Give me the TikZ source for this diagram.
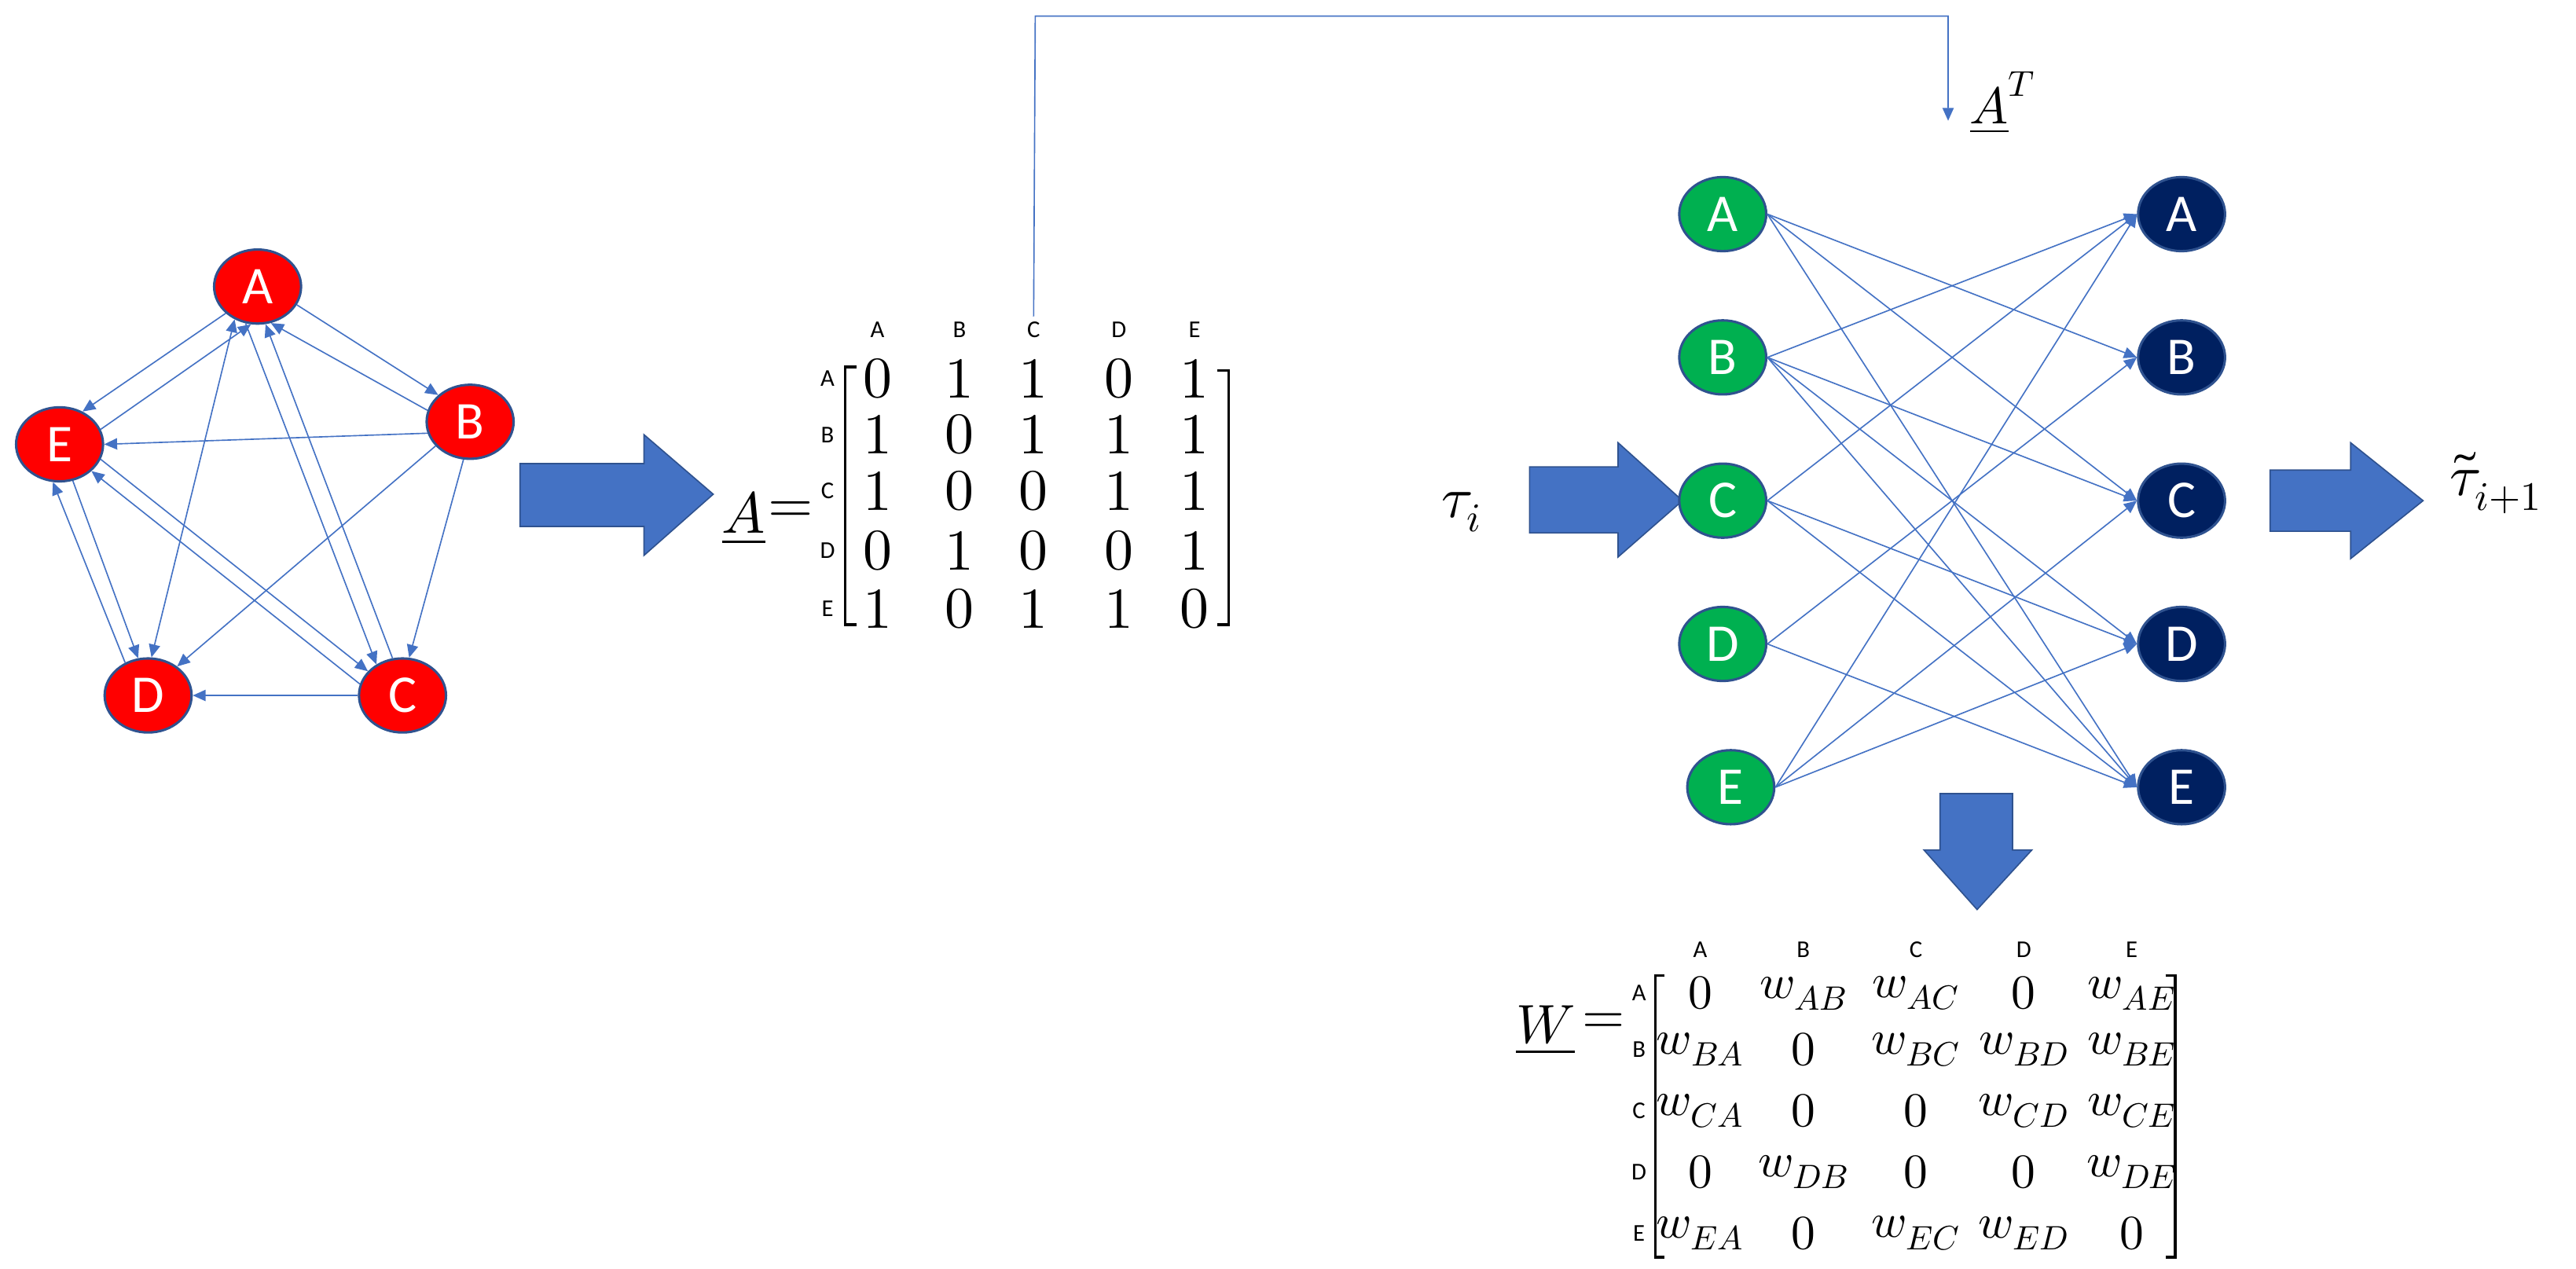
\documentclass[tikz,border=0pt]{standalone}
\usepackage{fontspec}
\usepackage{unicode-math}
\newfontfamily\lab{Carlito}
\usetikzlibrary{arrows.meta,shapes.geometric}
\definecolor{eblue}{HTML}{4472C4}
\definecolor{bord}{HTML}{2F528F}
\definecolor{gn}{HTML}{00B050}
\definecolor{nv}{HTML}{002060}
\tikzset{
 gnode/.style={ellipse,draw=bord,line width=1.5pt,minimum width=54pt,minimum height=46pt,inner sep=0pt,text=white,font=\lab\fontsize{33}{35}\selectfont},
 rnode/.style={gnode,fill=red},
 grn/.style={gnode,fill=gn},
 nav/.style={gnode,fill=nv},
 ed/.style={draw=eblue,line width=0.8pt,-{Triangle[length=8pt,width=7pt]}},
 big/.style={fill=eblue,draw=bord,line width=0.8pt},
 small/.style={font=\lab\fontsize{15}{16}\selectfont},
 dig/.style={font=\fontsize{36}{38}\selectfont},
 wt/.style={font=\fontsize{30}{32}\selectfont},
}
\begin{document}
\begin{tikzpicture}[x=1pt,y=-1pt]
\useasboundingbox (0,0) rectangle (1600,788);
% graph
\node[rnode] (A) at (160,178) {A};
\node[rnode] (B) at (292,262) {B};
\node[rnode] (C) at (250,432) {C};
\node[rnode] (D) at (92,432) {D};
\node[rnode] (E) at (37,276) {E};
\draw[ed] (A.-25) -- (B.140);
\draw[ed] (B.165) -- (A.-70);
\draw[ed] (B.195) -- (E.0);
\draw[ed] (B.215) -- (D.45);
\draw[ed] (B.-100) -- (C.80);
\draw[ed] (A.220) -- (E.55);
\draw[ed] (E.20) -- (A.-100);
\draw[ed,{Triangle[length=8pt,width=7pt]}-{Triangle[length=8pt,width=7pt]}] (A.-125) -- (D.85);
\draw[ed] (A.-108) -- (C.130);
\draw[ed] (C.105) -- (A.-78);
\draw[ed] (E.-20) -- (C.145);
\draw[ed] (C.165) -- (E.-40);
\draw[ed] (E.-70) -- (D.105);
\draw[ed] (D.125) -- (E.-100);
\draw[ed] (C.180) -- (D.0);
% arrow 1
\path[big] (323,288) -- (400,288) -- (400,270) -- (443,307) -- (400,345) -- (400,327) -- (323,327) -- cycle;
% matrix A
\node[font=\fontsize{36}{38}\selectfont] (Al) at (462,322) {$\underline{A}$};
\node[font=\fontsize{36}{38}\selectfont] (Aeq) at (491,318) {$=$};
\foreach \c [count=\j] in {A,B,C,D,E}{
  \pgfmathsetmacro\xx{{545,596,642,695,742}[\j-1]}
  \node[small] (ac\c) at (\xx,205) {\c};
}
\foreach \r [count=\i] in {A,B,C,D,E}{
  \pgfmathsetmacro\yy{{235,270,305,342,378}[\i-1]}
  \node[small] (ar\r) at (514,\yy) {\r};
}
\draw[line width=1.6pt] (532,228) -- (525,228) -- (525,388) -- (532,388);
\draw[line width=1.6pt] (756,230) -- (763,230) -- (763,388) -- (756,388);
\foreach \row [count=\i] in {{0,1,1,0,1},{1,0,1,1,1},{1,0,0,1,1},{0,1,0,0,1},{1,0,1,1,0}}{
  \foreach \v [count=\j] in \row {
    \pgfmathsetmacro\xx{{545,596,642,695,742}[\j-1]}
    \pgfmathsetmacro\yy{{235,270,305,342,378}[\i-1]}
    \node[dig] (a\i\j) at (\xx,\yy) {$\v$};
  }
}
% connector to A^T
\coordinate (t1) at (643,10);
\coordinate (t2) at (1210,10);
\coordinate (t3) at (1210,75);
\draw[draw=eblue,line width=0.8pt,-{Triangle[length=8pt,width=7pt]}] (acC.north) -- (t1) -- (t2) -- (t3);
\node[font=\fontsize{32}{34}\selectfont,anchor=west] (AT) at (1220,64) {$\underline{A}^{T}$};
% tau
\node[font=\fontsize{36}{38}\selectfont] (tau) at (908,318) {$\tau_i$};
\path[big] (950,290) -- (1005,290) -- (1005,275) -- (1045,311) -- (1005,346) -- (1005,331) -- (950,331) -- cycle;
% bipartite
\foreach \n [count=\i] in {A,B,C,D,E}{
  \pgfmathsetmacro\yy{{133,222,311,400,489}[\i-1]}
  \pgfmathsetmacro\xl{{1070,1070,1070,1070,1075}[\i-1]}
  \node[grn] (l\n) at (\xl,\yy) {\n};
  \node[nav] (r\n) at (1355,\yy) {\n};
}
\foreach \s/\t in {A/B,A/C,A/E,B/A,B/C,B/D,B/E,C/A,C/D,C/E,D/B,D/E,E/A,E/C,E/D}{
  \draw[ed] (l\s.east) -- (r\t.west);
}
\path[big] (1410,292) -- (1460,292) -- (1460,275) -- (1505,311) -- (1460,347) -- (1460,330) -- (1410,330) -- cycle;
\node[font=\fontsize{36}{38}\selectfont] (tau2) at (1550,300) {$\tilde{\tau}_{i+1}$};
% down arrow
\path[big] (1205,493) -- (1250,493) -- (1250,528) -- (1262,528) -- (1228,565) -- (1195,528) -- (1205,528) -- cycle;
% W matrix
\node[font=\fontsize{34}{36}\selectfont] (Wl) at (960,640) {$\underline{W}$};
\node[font=\fontsize{34}{36}\selectfont] (Weq) at (996,636) {$=$};
\foreach \c [count=\j] in {A,B,C,D,E}{
  \pgfmathsetmacro\xx{{1056,1120,1190,1257,1324}[\j-1]}
  \node[small] (wc\c) at (\xx,590) {\c};
}
\foreach \r [count=\i] in {A,B,C,D,E}{
  \pgfmathsetmacro\yy{{617,652,690,728,766}[\i-1]}
  \node[small] (wr\r) at (1018,\yy) {\r};
}
\draw[line width=1.6pt] (1034,606) -- (1028,606) -- (1028,781) -- (1034,781);
\draw[line width=1.6pt] (1345,606) -- (1351,606) -- (1351,781) -- (1345,781);
\foreach \row [count=\i] in {{0,w_{AB},w_{AC},0,w_{AE}},{w_{BA},0,w_{BC},w_{BD},w_{BE}},{w_{CA},0,0,w_{CD},w_{CE}},{0,w_{DB},0,0,w_{DE}},{w_{EA},0,w_{EC},w_{ED},0}}{
  \foreach \v [count=\j] in \row {
    \pgfmathsetmacro\xx{{1056,1120,1190,1257,1324}[\j-1]}
    \pgfmathsetmacro\yy{{617,652,690,728,766}[\i-1]}
    \node[wt] (w\i\j) at (\xx,\yy) {$\v$};
  }
}
\end{tikzpicture}
\end{document}
